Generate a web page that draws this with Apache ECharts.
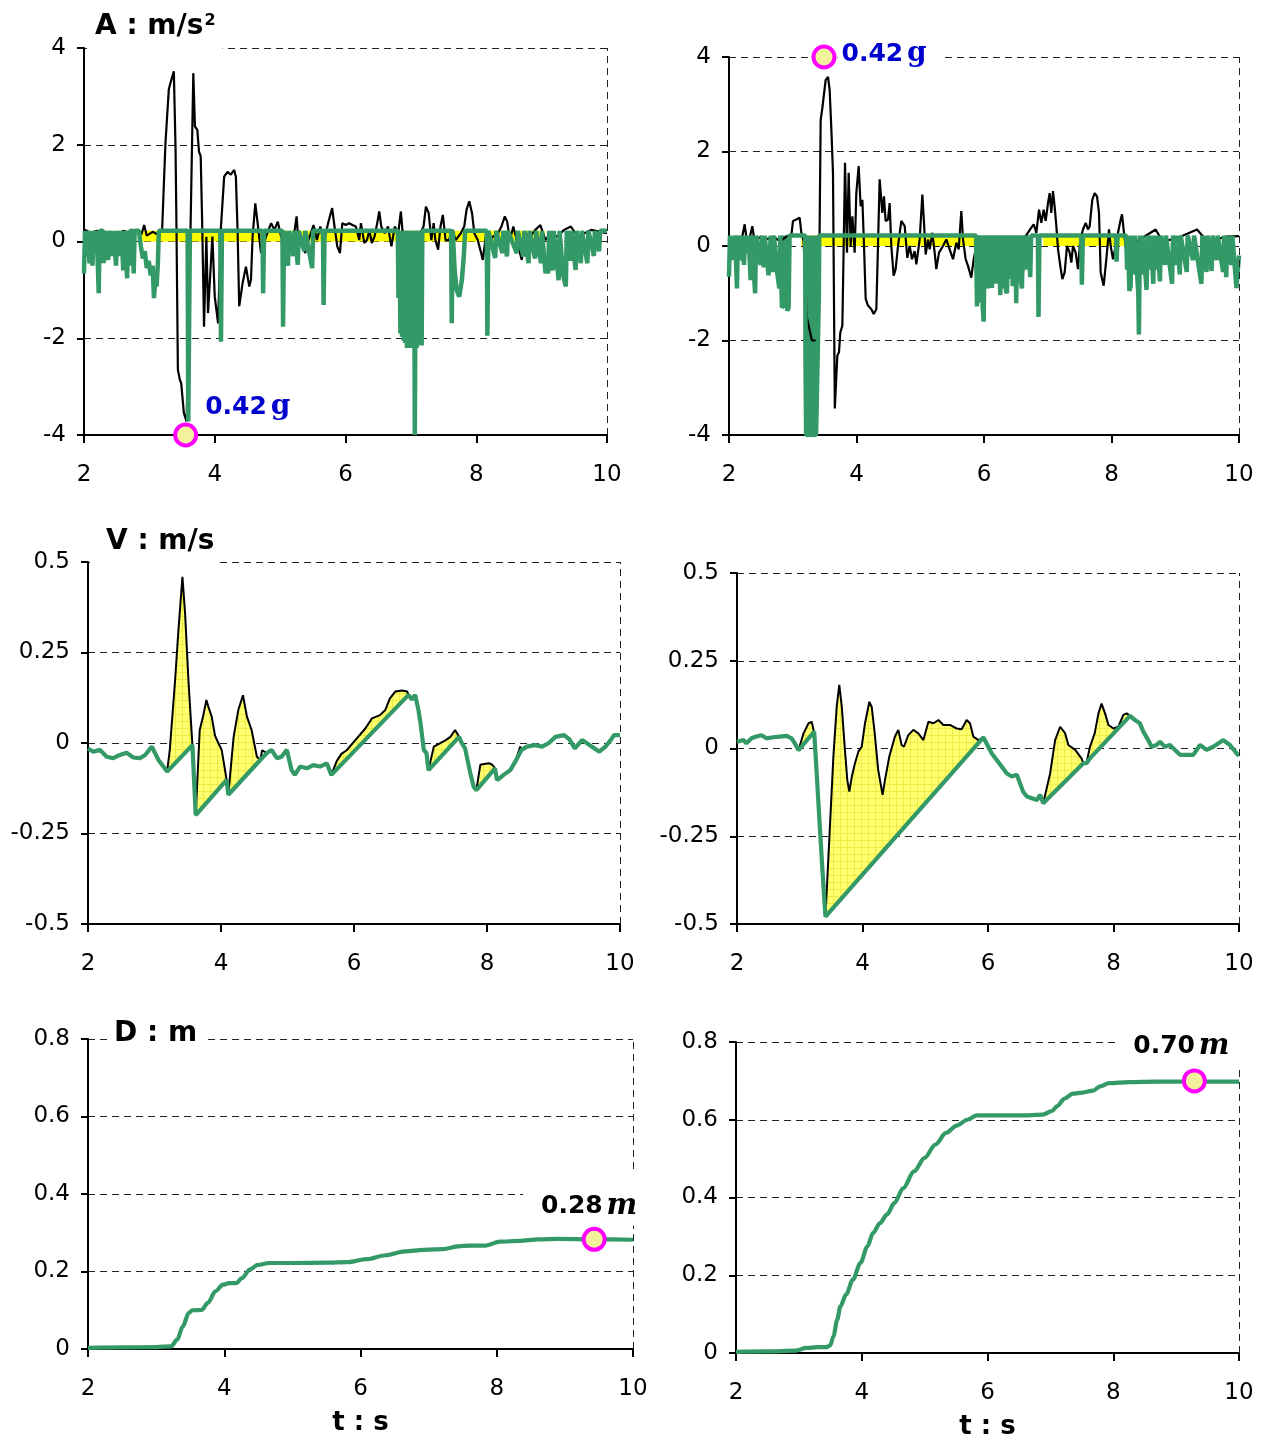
<!DOCTYPE html>
<html>
<head>
<meta charset="utf-8">
<title>A / V / D</title>
<script src="https://cdn.jsdelivr.net/npm/echarts@6/dist/echarts.min.js"></script>
<style>
  html, body { margin: 0; padding: 0; background: #fff; }
  #chart { width: 1263px; height: 1439px; }
</style>
</head>
<body>
<div id="chart"></div>
<script>
// ---- data: [t (s), value] ----

// acceleration, left record (m/s^2)
const accBlackL = [
  [2.0,0.25],[2.1,0.18],[2.2,0.22],[2.3,0.12],[2.4,0.2],[2.5,0.15],[2.6,0.22],[2.7,0.18],[2.8,0.2],[2.88,0.15],[2.92,0.34],[2.96,0.12],[3.05,0.2],[3.12,0.15],
  [3.195,0.24],[3.246,2.03],[3.297,3.14],[3.323,3.28],[3.35,3.3],[3.374,3.52],[3.40,1.96],[3.415,0.24],[3.436,-2.65],[3.467,-2.86],[3.487,-2.93],[3.528,-3.55],[3.569,-3.72],
  [3.62,-0.45],[3.672,3.48],[3.697,2.38],[3.733,2.31],[3.759,1.86],[3.785,1.76],[3.81,0.24],[3.836,-1.76],[3.872,0.1],[3.897,-1.48],[3.938,-0.52],[3.964,0.1],[4.0,-1.14],
  [4.051,-1.69],[4.092,0.24],[4.144,1.34],[4.195,1.44],[4.246,1.38],[4.297,1.48],[4.323,1.34],[4.349,0.24],[4.374,-1.34],[4.426,-0.86],[4.477,-0.52],[4.528,-0.93],
  [4.554,-0.79],[4.579,0.1],[4.62,0.79],[4.656,0.38],[4.708,-0.24],[4.785,0.1],[4.862,0.38],[4.913,0.24],[4.964,0.41],[5.015,0.1],
  [5.045,0.03],[5.097,-0.03],[5.149,-0.1],[5.2,0.03],[5.252,0.52],[5.278,0.03],[5.33,0.1],[5.382,-0.24],[5.433,0.03],[5.511,0.34],[5.563,0.03],[5.615,0.31],[5.667,-0.03],
  [5.734,0.38],[5.796,0.69],[5.832,0.31],[5.874,-0.1],[5.915,-0.24],[5.951,0.38],[6.003,0.34],[6.055,0.38],[6.107,0.34],[6.158,0.31],[6.21,0.03],[6.236,0.38],[6.288,-0.03],
  [6.329,0.03],[6.366,0.24],[6.402,-0.03],[6.443,0.1],[6.485,0.38],[6.516,0.62],[6.547,0.31],[6.599,0.17],[6.65,0.31],[6.702,-0.1],[6.754,0.31],[6.806,0.17],[6.847,0.62],
  [6.883,0.03],[6.935,-0.24],[6.987,0.03],[7.039,0.17],[7.091,-0.03],[7.142,0.17],[7.194,0.31],[7.23,0.72],[7.272,0.59],[7.313,0.03],[7.349,0.38],[7.375,0.03],[7.417,-0.17],
  [7.453,0.31],[7.489,0.55],[7.531,0.03],[7.583,0.03],[7.634,0.24],[7.686,0.03],[7.764,0.17],[7.816,0.31],[7.852,0.66],[7.893,0.83],[7.935,0.59],[7.971,0.17],[8.023,0.03],
  [8.075,-0.24],[8.1,-0.38],[8.152,0.17],[8.204,0.03],[8.256,0.1],[8.333,0.17],[8.385,0.31],[8.437,0.52],[8.473,0.41],[8.515,0.03],[8.567,0.31],[8.618,0.03],[8.696,-0.38],
  [8.748,0.17],[8.825,0.1],[8.903,0.24],[8.981,0.34],[9.059,0.03],[9.136,0.17],[9.24,0.1],[9.343,0.24],[9.447,0.31],[9.55,0.1],[9.654,0.17],[9.758,0.24],[9.861,0.21],[10.0,0.17]
];
const accGreenL = [
  [2.0,-0.66],[2.015,0.22],[2.04,-0.3],[2.055,0.22],[2.085,-0.45],[2.1,0.22],[2.13,-0.5],[2.145,0.22],[2.18,-0.25],[2.195,0.22],[2.215,0.22],[2.225,-1.07],[2.24,0.22],
  [2.29,0.22],[2.3,-0.45],[2.315,0.22],[2.37,-0.38],[2.385,0.22],[2.44,-0.3],[2.455,0.22],[2.49,-0.5],[2.505,0.22],[2.56,-0.3],[2.575,0.22],[2.6,-0.6],[2.615,0.22],
  [2.645,0.22],[2.66,-0.76],[2.675,0.22],[2.69,-0.5],[2.705,0.22],[2.745,0.22],[2.76,-0.66],[2.775,0.22],[2.84,0.22],[2.87,-0.1],[2.9,-0.35],[2.93,-0.2],[2.96,-0.55],
  [2.99,-0.4],[3.02,-0.7],[3.05,-0.5],[3.07,-1.17],[3.09,-0.8],[3.11,-0.93],[3.13,-0.45],[3.145,0.22],[3.585,0.22],[3.595,-3.72],[3.61,-3.72],[3.62,0.22],
  [4.085,0.22],[4.095,-2.07],[4.11,0.22],[4.73,0.22],[4.74,-1.07],[4.755,0.22],[5.035,0.22],[5.045,-1.76],[5.06,0.22],[5.12,-0.5],[5.135,0.22],[5.2,-0.3],[5.215,0.22],
  [5.27,-0.48],[5.285,0.22],[5.37,-0.2],[5.385,0.22],[5.49,-0.55],[5.505,0.22],[5.655,0.22],[5.665,-1.31],[5.68,0.22],
  [6.8,0.22],[6.81,-1.17],[6.825,0.22],[6.84,-1.9],[6.85,0.22],[6.865,-1.97],[6.875,0.22],[6.89,-2.05],[6.9,0.22],[6.915,-2.1],[6.925,0.22],[6.94,-2.2],[6.95,0.22],
  [6.965,-2.1],[6.975,0.22],[6.99,-2.2],[7.0,0.22],[7.015,-2.1],[7.025,0.22],[7.04,-2.15],[7.05,0.22],[7.06,-4.0],[7.075,0.22],[7.09,-2.2],[7.1,0.22],[7.115,-2.14],
  [7.125,0.22],[7.14,-2.1],[7.15,0.22],[7.165,-2.15],[7.175,0.22],
  [7.615,0.22],[7.625,-1.69],[7.64,0.22],[7.67,-0.6],[7.7,-1.0],[7.74,-1.14],[7.78,-0.8],[7.81,-0.3],[7.83,0.22],[8.16,0.22],[8.17,-1.95],[8.185,0.22],[8.29,-0.34],
  [8.305,0.22],[8.4,-0.24],[8.415,0.22],[8.47,-0.31],[8.485,0.22],[8.62,-0.24],[8.635,0.22],[8.72,-0.31],[8.735,0.22],[8.8,-0.45],[8.815,0.22],[8.88,-0.24],[8.9,-0.35],
  [8.915,0.22],[8.99,-0.45],[9.005,0.22],[9.06,-0.66],[9.08,-0.4],[9.1,-0.66],[9.115,0.22],[9.17,-0.6],[9.185,0.22],[9.26,-0.8],[9.275,0.22],[9.33,-0.7],[9.37,-0.93],
  [9.385,0.22],[9.44,-0.4],[9.455,0.22],[9.52,-0.59],[9.535,0.22],[9.6,-0.45],[9.615,0.22],[9.7,-0.45],[9.715,0.22],[9.8,-0.3],[9.815,0.22],[9.88,-0.2],[9.895,0.22],[10.0,0.22]
];
// lower edge of the spans where the green spikes merge into a solid mass
const accSolidL = [
  [[6.81,-1.17],[6.86,-1.2],[6.87,-1.97],[6.95,-2.1],[7.0,-2.15],[7.1,-2.1],[7.17,-2.14]]
];
const accBandL = [[2.84, 9.05]];      // yellow band under the 0.22 level
const accBandLevel = 0.22;

// acceleration, right record (m/s^2)
const accBlackR = [
  [2.0,0.2],[2.05,0.1],[2.1,0.2],[2.2,0.15],[2.246,0.46],[2.28,0.1],[2.33,0.2],[2.366,0.42],[2.4,0.1],[2.5,0.2],[2.6,0.15],[2.7,0.2],[2.8,0.1],[2.9,0.2],[2.98,0.25],
  [3.004,0.53],[3.03,0.5],[3.056,0.56],[3.08,0.55],[3.108,0.6],[3.135,0.28],[3.17,0.1],[3.22,-1.5],[3.3,-2.0],[3.39,-2.0],[3.42,0.14],[3.438,2.67],[3.464,2.92],[3.49,2.88],
  [3.516,3.51],[3.553,3.58],[3.579,3.30],[3.605,2.49],[3.631,1.55],[3.66,-3.44],[3.699,-2.32],[3.725,-2.25],[3.746,-1.83],[3.778,-1.69],[3.799,0.0],[3.82,1.76],
  [3.851,-0.14],[3.877,1.55],[3.908,0.0],[3.935,0.63],[3.971,-0.14],[3.997,1.12],[4.034,1.69],[4.065,0.84],[4.092,0.98],[4.118,0.0],[4.144,-1.12],[4.18,-1.26],
  [4.233,-1.34],[4.269,-1.44],[4.311,-1.34],[4.337,0.0],[4.363,1.41],[4.405,0.7],[4.431,1.05],[4.457,0.53],[4.494,0.56],[4.52,0.91],[4.546,0.0],[4.583,-0.63],
  [4.614,-0.49],[4.651,0.0],[4.703,0.53],[4.756,0.42],[4.797,-0.25],[4.834,0.0],[4.871,-0.28],[4.912,-0.11],[4.939,-0.39],[4.991,0.14],[5.033,1.09],[5.059,0.49],
  [5.085,-0.18],[5.122,0.14],[5.148,-0.07],[5.19,0.28],[5.226,-0.14],[5.252,-0.49],[5.294,-0.14],[5.357,0.0],[5.409,0.14],[5.461,-0.07],[5.514,-0.28],[5.566,0.07],
  [5.603,-0.07],[5.644,0.74],[5.671,0.14],[5.712,-0.28],[5.749,-0.42],[5.801,-0.67],[5.838,-0.28],[5.88,0.0],[6.0,0.1],[6.2,0.05],[6.4,0.15],[6.6,0.1],[6.742,0.39],
  [6.779,0.46],[6.821,0.28],[6.863,0.77],[6.899,0.49],[6.936,0.77],[6.967,0.53],[7.004,0.91],[7.03,1.12],[7.056,0.7],[7.082,1.16],[7.108,0.84],[7.135,0.42],[7.161,-0.07],
  [7.197,-0.42],[7.229,-0.70],[7.265,-0.56],[7.302,0.0],[7.344,-0.14],[7.37,-0.35],[7.396,0.0],[7.438,-0.14],[7.474,-0.49],[7.511,0.14],[7.553,0.35],[7.595,0.49],
  [7.631,0.35],[7.658,0.42],[7.699,0.98],[7.736,1.12],[7.773,1.05],[7.804,0.70],[7.83,-0.56],[7.877,-0.84],[7.919,-0.28],[7.961,0.35],[7.987,0.0],[8.024,-0.28],
  [8.065,0.0],[8.102,0.28],[8.139,0.53],[8.165,0.67],[8.196,0.28],[8.233,-0.14],[8.4,0.1],[8.693,0.35],[8.8,0.1],[9.0,0.15],[9.341,0.35],[9.5,0.1],[9.645,0.14],
  [9.8,0.2],[10.0,0.21]
];
const accGreenR = [
  [2.0,-0.65],[2.015,0.22],[2.04,-0.3],[2.055,0.22],[2.08,-0.2],[2.095,0.22],[2.125,-0.9],[2.14,0.22],[2.19,-0.3],[2.205,0.22],[2.235,-0.4],[2.25,0.22],[2.29,-0.15],
  [2.305,0.22],[2.34,-0.72],[2.355,0.22],[2.41,-1.0],[2.425,0.22],[2.48,-0.3],[2.5,-0.4],[2.515,0.22],[2.545,-0.45],[2.56,0.22],[2.62,-0.62],[2.64,-0.6],[2.655,0.22],
  [2.69,-0.55],[2.705,0.22],[2.76,-0.6],[2.79,-0.9],[2.805,0.22],[2.83,-1.3],[2.87,-1.25],[2.89,-1.0],[2.915,-1.37],[2.935,-1.3],[2.95,0.22],
  [3.195,0.22],[3.2,-2.4],[3.21,-4.0],[3.29,-4.0],[3.3,-2.5],[3.31,-2.5],[3.32,-4.0],[3.365,-4.0],[3.375,-3.4],[3.4,-3.4],[3.41,-1.0],[3.415,0.22],
  [5.875,0.22],[5.89,-1.28],[5.905,0.22],[5.92,-1.2],[5.935,0.22],[5.95,-0.8],[5.965,0.22],[5.98,-1.3],[5.995,-1.6],[6.01,0.22],[6.03,-0.7],[6.045,0.22],[6.06,-0.9],
  [6.075,0.22],[6.09,-0.6],[6.105,0.22],[6.125,-0.89],[6.14,0.22],[6.155,-0.7],[6.17,0.22],[6.185,-0.8],[6.2,0.22],[6.215,-0.6],[6.23,0.22],[6.255,-1.04],[6.27,0.22],
  [6.285,-0.75],[6.3,0.22],[6.315,-0.9],[6.33,0.22],[6.345,-0.95],[6.36,-1.0],[6.375,0.22],[6.39,-0.7],[6.405,0.22],[6.42,-0.6],[6.435,0.22],[6.45,-0.85],[6.465,0.22],
  [6.48,-0.6],[6.495,0.22],[6.505,-1.21],[6.52,0.22],[6.54,-0.5],[6.555,0.22],[6.575,-0.7],[6.595,-0.9],[6.61,0.22],[6.64,-0.4],[6.655,0.22],[6.69,-0.5],[6.705,0.22],
  [6.725,-0.66],[6.74,0.22],[6.845,0.22],[6.855,-1.5],[6.87,0.22],[7.525,0.22],[7.535,-0.82],[7.55,0.22],[8.07,0.22],[8.08,-0.33],[8.095,0.22],[8.23,0.22],[8.245,-0.5],
  [8.26,0.22],[8.28,-0.95],[8.3,-0.85],[8.315,0.22],[8.35,-0.6],[8.365,0.22],[8.42,-1.0],[8.43,-1.87],[8.445,0.22],[8.47,-0.6],[8.485,0.22],[8.55,-0.93],[8.565,0.22],
  [8.6,-0.5],[8.615,0.22],[8.655,-0.8],[8.67,0.22],[8.7,-0.5],[8.715,0.22],[8.76,-0.75],[8.775,0.22],[8.84,-0.4],[8.855,0.22],[8.95,-0.8],[8.965,0.22],[9.02,-0.4],
  [9.035,0.22],[9.07,-0.6],[9.085,0.22],[9.18,-0.55],[9.195,0.22],[9.28,-0.3],[9.295,0.22],[9.41,-0.8],[9.425,0.22],[9.49,-0.55],[9.505,0.22],[9.57,-0.53],[9.585,0.22],
  [9.65,-0.3],[9.665,0.22],[9.75,-0.55],[9.765,0.22],[9.8,-0.66],[9.815,0.22],[9.88,-0.4],[9.895,0.22],[9.96,-0.89],[9.975,-0.6],[10.0,-0.2]
];
const accSolidR = [
  [[2.81,-0.9],[2.83,-1.25],[2.93,-1.3]],
  [[3.205,-4.0],[3.29,-4.0],[3.3,-2.5],[3.31,-2.5],[3.32,-4.0],[3.365,-4.0],[3.375,-3.4],[3.405,-3.4]],
  [[5.89,-0.8],[6.0,-0.9],[6.1,-0.62],[6.2,-0.7],[6.3,-0.75],[6.4,-0.6],[6.5,-0.7],[6.6,-0.6],[6.7,-0.4],[6.73,-0.4]]
];
const accBandR = [[3.135, 5.88], [6.93, 8.23]];

// velocity, left record (m/s)
const velBlackL = [
  [2.0,-0.015],[2.08,-0.024],[2.18,-0.019],[2.28,-0.038],[2.38,-0.042],[2.48,-0.033],[2.58,-0.027],[2.68,-0.040],[2.78,-0.042],[2.86,-0.033],[2.96,-0.010],[3.06,-0.047],
  [3.19,-0.079],[3.23,-0.019],[3.31,0.174],[3.36,0.312],[3.42,0.459],[3.46,0.358],[3.51,0.174],[3.57,-0.006],
  [3.62,-0.199],[3.68,0.036],[3.73,0.073],[3.78,0.119],[3.81,0.100],[3.86,0.073],[3.91,0.020],[3.96,0.0],[4.01,-0.019],[4.085,-0.102],
  [4.11,-0.143],[4.19,0.017],[4.26,0.091],[4.33,0.132],[4.39,0.073],[4.46,0.036],[4.54,-0.038],[4.59,-0.047],
  [4.62,-0.02],[4.65,-0.019],[4.69,-0.028],[4.76,-0.019],[4.84,-0.042],[4.91,-0.038],[4.99,-0.019],[5.06,-0.074],[5.11,-0.088],[5.19,-0.065],[5.29,-0.070],[5.39,-0.061],
  [5.49,-0.065],[5.59,-0.056],[5.66,-0.088],
  [5.74,-0.05],[5.81,-0.03],[5.89,-0.02],[6.02,0.008],[6.17,0.040],[6.27,0.068],[6.39,0.077],[6.47,0.091],[6.54,0.123],[6.62,0.142],[6.72,0.145],[6.80,0.142],[6.82,0.133],
  [6.87,0.12],[6.92,0.133],[6.97,0.09],[7.0,0.055],[7.05,-0.019],[7.09,-0.028],[7.12,-0.075],
  [7.2,-0.01],[7.29,-0.001],[7.38,0.008],[7.45,0.017],[7.52,0.036],[7.58,0.017],
  [7.62,0.0],[7.67,-0.015],[7.75,-0.084],[7.8,-0.121],[7.84,-0.13],
  [7.9,-0.06],[7.96,-0.058],[8.03,-0.056],[8.08,-0.06],[8.12,-0.07],
  [8.15,-0.102],[8.2,-0.096],[8.25,-0.088],[8.35,-0.075],[8.43,-0.05],[8.5,-0.01],[8.52,-0.019],[8.6,-0.01],[8.72,-0.006],[8.83,-0.01],[8.93,0.0],[9.03,0.017],
  [9.16,0.022],[9.24,0.01],[9.32,-0.015],[9.43,0.008],[9.53,-0.004],[9.69,-0.024],[9.78,-0.01],[9.86,0.008],[9.91,0.022],[10.0,0.022]
];
const velGreenL = [
  [2.0,-0.015],[2.08,-0.024],[2.18,-0.019],[2.28,-0.038],[2.38,-0.042],[2.48,-0.033],[2.58,-0.027],[2.68,-0.040],[2.78,-0.042],[2.86,-0.033],[2.96,-0.010],[3.06,-0.047],
  [3.19,-0.079],[3.57,-0.006],[3.62,-0.199],[4.085,-0.102],[4.11,-0.143],[4.59,-0.047],[4.69,-0.028],[4.76,-0.019],[4.84,-0.042],[4.91,-0.038],[4.99,-0.019],
  [5.06,-0.074],[5.11,-0.088],[5.19,-0.065],[5.29,-0.070],[5.39,-0.061],[5.49,-0.065],[5.59,-0.056],[5.66,-0.088],[6.82,0.133],[6.87,0.12],[6.92,0.133],[6.97,0.09],
  [7.0,0.055],[7.05,-0.019],[7.09,-0.028],[7.12,-0.075],[7.58,0.017],[7.62,0.0],[7.67,-0.015],[7.75,-0.084],[7.8,-0.121],[7.84,-0.13],[8.12,-0.07],[8.15,-0.102],
  [8.2,-0.096],[8.25,-0.088],[8.35,-0.075],[8.43,-0.05],[8.52,-0.019],[8.6,-0.01],[8.72,-0.006],[8.83,-0.01],[8.93,0.0],[9.03,0.017],[9.16,0.022],[9.24,0.01],
  [9.32,-0.015],[9.43,0.008],[9.53,-0.004],[9.69,-0.024],[9.78,-0.01],[9.86,0.008],[9.91,0.022],[10.0,0.022]
];
const velFillL = [[3.19,3.57],[3.62,4.085],[4.11,4.59],[5.66,6.82],[7.12,7.58],[7.84,8.12]];

// velocity, right record (m/s)
const velBlackR = [
  [2.0,0.019],[2.10,0.024],[2.15,0.015],[2.23,0.029],[2.31,0.034],[2.39,0.038],[2.47,0.029],[2.58,0.032],[2.68,0.034],[2.79,0.036],[2.87,0.029],[2.92,0.015],[2.98,-0.005],
  [3.06,0.043],[3.14,0.072],[3.19,0.076],[3.22,0.053],[3.23,0.048],
  [3.27,-0.071],[3.32,-0.223],[3.365,-0.356],[3.41,-0.479],
  [3.47,-0.261],[3.536,-0.023],[3.589,0.119],[3.63,0.181],[3.67,0.119],[3.72,-0.004],[3.758,-0.090],[3.79,-0.123],[3.83,-0.080],[3.88,-0.042],[3.934,-0.009],
  [3.987,0.005],[4.04,0.072],[4.109,0.133],[4.146,0.119],[4.189,0.053],[4.25,-0.061],[4.32,-0.132],[4.358,-0.090],[4.427,-0.023],[4.517,0.034],[4.57,0.053],
  [4.624,0.010],[4.66,0.005],[4.73,0.038],[4.81,0.053],[4.89,0.043],[4.97,0.024],[5.05,0.076],[5.13,0.072],[5.21,0.081],[5.288,0.067],[5.394,0.067],[5.5,0.057],
  [5.58,0.055],[5.66,0.081],[5.713,0.072],[5.766,0.034],[5.846,0.024],[5.926,0.032],
  [6.005,0.005],[6.06,-0.014],[6.14,-0.033],[6.22,-0.052],[6.30,-0.071],[6.38,-0.080],[6.46,-0.075],[6.51,-0.099],[6.56,-0.123],[6.62,-0.137],[6.70,-0.142],
  [6.78,-0.147],[6.83,-0.132],[6.88,-0.156],
  [6.99,-0.071],[7.07,0.024],[7.15,0.062],[7.23,0.043],[7.28,0.010],[7.39,-0.004],[7.49,-0.028],[7.52,-0.042],
  [7.57,-0.042],[7.625,0.005],[7.70,0.043],[7.76,0.100],[7.81,0.128],[7.865,0.100],[7.92,0.067],[8.0,0.057],[8.077,0.062],[8.157,0.096],[8.21,0.100],[8.263,0.093],
  [8.343,0.081],[8.42,0.072],[8.475,0.048],[8.554,0.024],[8.607,0.005],[8.687,0.010],[8.74,0.019],[8.82,0.005],[8.9,0.010],[8.98,-0.004],[9.06,-0.018],[9.166,-0.018],
  [9.272,-0.018],[9.378,0.010],[9.484,-0.004],[9.59,0.005],[9.75,0.024],[9.856,0.010],[9.962,-0.014],[10.0,-0.021]
];
const velGreenR = [
  [2.0,0.019],[2.10,0.024],[2.15,0.015],[2.23,0.029],[2.31,0.034],[2.39,0.038],[2.47,0.029],[2.58,0.032],[2.68,0.034],[2.79,0.036],[2.87,0.029],[2.92,0.015],[2.98,-0.005],
  [3.23,0.048],[3.27,-0.071],[3.32,-0.223],[3.365,-0.356],[3.41,-0.479],[5.926,0.032],[6.005,0.005],[6.06,-0.014],[6.14,-0.033],[6.22,-0.052],[6.30,-0.071],
  [6.38,-0.080],[6.46,-0.075],[6.51,-0.099],[6.56,-0.123],[6.62,-0.137],[6.70,-0.142],[6.78,-0.147],[6.83,-0.132],[6.88,-0.156],[7.52,-0.042],[7.57,-0.042],
  [7.625,-0.028],[8.263,0.093],[8.343,0.081],[8.42,0.072],[8.475,0.048],[8.554,0.024],[8.607,0.005],[8.687,0.010],[8.74,0.019],[8.82,0.005],[8.9,0.010],
  [8.98,-0.004],[9.06,-0.018],[9.166,-0.018],[9.272,-0.018],[9.378,0.010],[9.484,-0.004],[9.59,0.005],[9.75,0.024],[9.856,0.010],[9.962,-0.014],[10.0,-0.021]
];
const velFillR = [[2.98,3.23],[3.41,5.926],[6.88,7.52],[7.57,8.263]];

// displacement (m)
const dispL = [
  [2.0,0.003],[2.5,0.004],[3.0,0.005],[3.22,0.007],[3.31,0.024],[3.39,0.058],[3.48,0.093],[3.53,0.100],[3.67,0.101],[3.76,0.119],[3.87,0.149],[3.98,0.166],[4.07,0.170],
  [4.18,0.170],[4.26,0.183],[4.375,0.205],[4.49,0.217],[4.66,0.222],[4.96,0.222],[5.53,0.223],[5.81,0.224],[6.09,0.232],[6.37,0.242],[6.65,0.252],[6.93,0.256],
  [7.21,0.258],[7.44,0.265],[7.6,0.267],[7.83,0.267],[8.05,0.277],[8.33,0.279],[8.61,0.283],[8.9,0.284],[9.43,0.283],[10.0,0.282]
];
const dispR = [
  [2.0,0.003],[2.5,0.004],[2.95,0.006],[3.12,0.013],[3.3,0.015],[3.44,0.015],[3.5,0.02],[3.55,0.043],[3.61,0.086],[3.66,0.120],[3.75,0.150],[3.86,0.189],[3.98,0.232],
  [4.09,0.274],[4.18,0.309],[4.29,0.334],[4.40,0.356],[4.52,0.386],[4.66,0.424],[4.83,0.467],[5.0,0.502],[5.17,0.536],[5.34,0.566],[5.51,0.585],[5.68,0.600],
  [5.83,0.611],[5.97,0.611],[6.54,0.611],[6.88,0.613],[7.02,0.622],[7.11,0.635],[7.22,0.654],[7.36,0.667],[7.51,0.670],[7.68,0.675],[7.79,0.686],[7.93,0.694],
  [8.25,0.697],[8.70,0.698],[9.29,0.698],[10.0,0.698]
];

// marked points and their notes
const peakAccL = [3.555, -4];
const peakAccR = [3.49, 4];
const endDispL = [9.43, 0.283];
const endDispR = [9.29, 0.70];
const peakAccText = ['0.42', 'g'];
const endDispTextL = ['0.28', 'm'];
const endDispTextR = ['0.70', 'm'];

// ---- chart ----
const GREEN = '#339966';
const FONT = 'DejaVu Sans';
const chart = echarts.init(document.getElementById('chart'));

// light yellow fill with a faint grid, like the original hatch
const hatch = (function () {
  const c = document.createElement('canvas');
  c.width = 7; c.height = 7;
  const g = c.getContext('2d');
  g.fillStyle = '#ffff70';
  g.fillRect(0, 0, 7, 7);
  g.fillStyle = '#ecec48';
  g.fillRect(0, 0, 7, 1);
  g.fillRect(0, 0, 1, 7);
  return { image: c, repeat: 'repeat' };
})();

const grids = [
  { left: 84, top: 48, width: 523, height: 387 },
  { left: 729, top: 57, width: 510, height: 378 },
  { left: 88, top: 562, width: 532, height: 362 },
  { left: 737, top: 573, width: 502, height: 351 },
  { left: 88, top: 1039, width: 545, height: 310 },
  { left: 736, top: 1042, width: 503, height: 311 }
];

const xAxisOf = (i, withName) => ({
  type: 'value', gridIndex: i, min: 2, max: 10, interval: 2,
  axisLine: { show: true, onZero: false, lineStyle: { color: '#000', width: 2 } },
  axisTick: { show: true, length: 8, lineStyle: { color: '#000', width: 2 } },
  axisLabel: { color: '#000', fontSize: 23, fontFamily: FONT, margin: 29, showMinLabel: true, showMaxLabel: true },
  splitLine: { show: false },
  name: withName ? 't : s' : '',
  nameLocation: 'middle',
  nameGap: 61,
  nameTextStyle: { color: '#000', fontSize: 26, fontWeight: 'bold', fontFamily: FONT }
});
const yAxisOf = (i, min, max, step) => ({
  type: 'value', gridIndex: i, min: min, max: max, interval: step,
  axisLine: { show: true, onZero: false, lineStyle: { color: '#000', width: 2 } },
  axisTick: { show: true, length: 7, lineStyle: { color: '#000', width: 2 } },
  axisLabel: { color: '#000', fontSize: 23, fontFamily: FONT, margin: 18, showMinLabel: true, showMaxLabel: true },
  splitLine: { show: true, lineStyle: { color: '#222', width: 1, type: [7, 5] } }
});

const rightBorder = {
  silent: true, symbol: 'none', label: { show: false },
  lineStyle: { color: '#222', width: 1, type: [7, 5] },
  data: [{ xAxis: 10 }]
};

function bandSeries(i, bands) {
  const data = [];
  bands.forEach((b, k) => {
    if (k) data.push([b[0], null]);
    data.push([b[0], accBandLevel], [b[1], accBandLevel]);
  });
  return {
    type: 'line', xAxisIndex: i, yAxisIndex: i, data: data, showSymbol: false,
    lineStyle: { width: 0 }, areaStyle: { color: '#ffff00', opacity: 1 }, z: 1
  };
}
// solid green mass between a lower edge and the 0.22 level
function solidSeries(i, pieces) {
  return {
    type: 'custom', xAxisIndex: i, yAxisIndex: i, z: 3,
    data: pieces.map(p => [p[0][0], p[p.length - 1][0]]),
    renderItem: function (params, api) {
      const piece = pieces[params.dataIndex];
      const t0 = piece[0][0], t1 = piece[piece.length - 1][0];
      const pts = piece.concat([[t1, accBandLevel], [t0, accBandLevel]]).map(p => api.coord(p));
      return { type: 'polygon', shape: { points: pts }, style: { fill: GREEN } };
    }
  };
}
function lineSeries(i, data, color, width, extra) {
  return Object.assign({
    type: 'line', xAxisIndex: i, yAxisIndex: i, data: data, showSymbol: false,
    lineStyle: { color: color, width: width }, itemStyle: { color: color }
  }, extra || {});
}
function fillSeries(i, upper, lower, regions) {
  return {
    type: 'custom', xAxisIndex: i, yAxisIndex: i, data: regions, z: 1,
    renderItem: function (params, api) {
      const t0 = api.value(0) - 1e-6, t1 = api.value(1) + 1e-6;
      const inside = p => p[0] >= t0 && p[0] <= t1;
      const pts = upper.filter(inside).concat(lower.filter(inside).reverse())
        .map(p => api.coord(p));
      return { type: 'polygon', shape: { points: pts }, style: { fill: hatch } };
    }
  };
}
function markerSeries(i, point, text, isAcc, label) {
  const col = isAcc ? '#0000cc' : '#000';
  const rich = {
    n: { fontFamily: FONT, fontWeight: 'bold', fontSize: 25, color: col, opacity: 1 },
    u: { fontFamily: 'DejaVu Serif', fontWeight: 'bold', fontStyle: isAcc ? 'normal' : 'italic',
         fontSize: isAcc ? 28 : 29, color: col, opacity: 1 }
  };
  return {
    type: 'scatter', xAxisIndex: i, yAxisIndex: i, data: [point], clip: false, z: 5,
    symbol: 'circle', symbolSize: 21,
    itemStyle: { color: '#f2f29c', borderColor: '#ff00ff', borderWidth: 4, opacity: 1 },
    emphasis: { disabled: true },
    label: Object.assign({
      show: true, opacity: 1, color: col,
      formatter: '{n|' + text[0] + '} {u|' + text[1] + '}', rich: rich
    }, label)
  };
}

const titleStyle = {
  color: '#000', fontSize: 28, fontWeight: 'bold', fontFamily: FONT,
  rich: { s: { fontSize: 16, fontWeight: 'bold', fontFamily: FONT, verticalAlign: 'top', padding: [0, 0, 12, 1] } }
};

const option = {
  animation: false,
  backgroundColor: '#fff',
  textStyle: { fontFamily: FONT },
  title: [
    { text: 'A : m/s{s|2}', left: 87, top: 8, padding: [5, 7, 12, 8], backgroundColor: '#fff', textStyle: titleStyle },
    { text: 'V : m/s', left: 90, top: 524, padding: [4, 4, 8, 16], backgroundColor: '#fff', textStyle: titleStyle },
    { text: 'D : m', left: 108, top: 1018, padding: [2, 6, 4, 6], backgroundColor: '#fff', textStyle: titleStyle }
  ],
  grid: grids.map(g => Object.assign({ outerBoundsMode: 'none' }, g)),
  xAxis: [0, 1, 2, 3, 4, 5].map(i => xAxisOf(i, i >= 4)),
  yAxis: [
    yAxisOf(0, -4, 4, 2), yAxisOf(1, -4, 4, 2),
    yAxisOf(2, -0.5, 0.5, 0.25), yAxisOf(3, -0.5, 0.5, 0.25),
    yAxisOf(4, 0, 0.8, 0.2), yAxisOf(5, 0, 0.8, 0.2)
  ],
  series: [
    // A left
    bandSeries(0, accBandL),
    lineSeries(0, accBlackL, '#000', 2.2, { markLine: rightBorder }),
    solidSeries(0, accSolidL),
    lineSeries(0, accGreenL, GREEN, 4.5, { z: 4 }),
    markerSeries(0, peakAccL, peakAccText, true, { position: 'right', offset: [2, -28] }),
    // A right
    bandSeries(1, accBandR),
    lineSeries(1, accBlackR, '#000', 2.2, { markLine: rightBorder }),
    solidSeries(1, accSolidR),
    lineSeries(1, accGreenR, GREEN, 4.5, { z: 4 }),
    markerSeries(1, peakAccR, peakAccText, true, {
      position: 'right', offset: [-4, -3], backgroundColor: '#fff', padding: [2, 14, 2, 4]
    }),
    // V left
    fillSeries(2, velBlackL, velGreenL, velFillL),
    lineSeries(2, velBlackL, '#000', 2, { markLine: rightBorder }),
    lineSeries(2, velGreenL, GREEN, 4.2),
    // V right
    fillSeries(3, velBlackR, velGreenR, velFillR),
    lineSeries(3, velBlackR, '#000', 2, { markLine: rightBorder }),
    lineSeries(3, velGreenR, GREEN, 4.2),
    // D left
    lineSeries(4, dispL, GREEN, 4.2, { smooth: 0.3, smoothMonotone: 'x', markLine: rightBorder }),
    markerSeries(4, endDispL, endDispTextL, false, {
      position: 'top', offset: [-10, 4], backgroundColor: '#fff', padding: [22, 8, 5, 18]
    }),
    // D right
    lineSeries(5, dispR, GREEN, 4.2, { smooth: 0.3, smoothMonotone: 'x', markLine: rightBorder }),
    markerSeries(5, endDispR, endDispTextR, false, {
      position: 'top', offset: [-14, 4], backgroundColor: '#fff', padding: [8, 13, 6, 15]
    })
  ]
};
chart.setOption(option);
</script>
</body>
</html>
